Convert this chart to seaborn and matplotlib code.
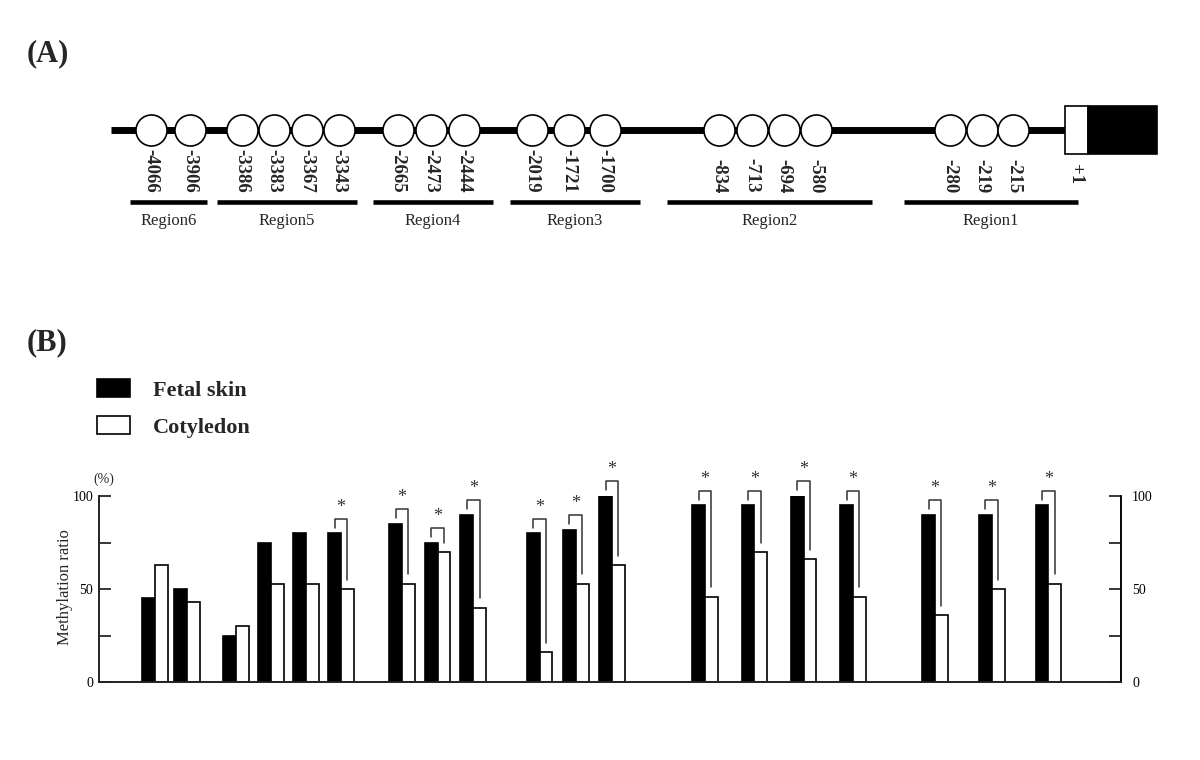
import numpy as np
import pandas as pd
import matplotlib
matplotlib.use('Agg')
import matplotlib.pyplot as plt
from matplotlib.patches import Rectangle
import seaborn as sns

sites = ['-4066', '-3906', '-3386', '-3383', '-3367', '-3343', '-2665', '-2473', '-2444',
         '-2019', '-1721', '-1700', '-834', '-713', '-694', '-580', '-280', '-219', '-215']
site_region = ['Region6', 'Region6', 'Region5', 'Region5', 'Region5', 'Region5',
               'Region4', 'Region4', 'Region4', 'Region3', 'Region3', 'Region3',
               'Region2', 'Region2', 'Region2', 'Region2', 'Region1', 'Region1', 'Region1']
fetal_skin = [45, 50, 25, 75, 80, 80, 85, 75, 90, 80, 82, 100, 95, 95, 100, 95, 90, 90, 95]
cotyledon = [63, 43, 30, 53, 53, 50, 53, 70, 40, 16, 53, 63, 46, 70, 66, 46, 36, 50, 53]
significant = [False, False, False, False, False, True, True, True, True, True,
               True, True, True, True, True, True, True, True, True]
regions = ['Region6', 'Region5', 'Region4', 'Region3', 'Region2', 'Region1']
tissues = ['Fetal skin', 'Cotyledon']
y_ticks = [0, 25, 50, 75, 100]
y_tick_labels = ['0', '', '50', '', '100']

# layout in figure pixels (1200 x 760)
circle_start = {'Region6': 150.7, 'Region5': 241.7, 'Region4': 398.3,
                'Region3': 532.3, 'Region2': 719.3, 'Region1': 950.2}
circle_pitch = {'Region6': 39.3, 'Region5': 32.4, 'Region4': 32.8,
                'Region3': 36.3, 'Region2': 32.2, 'Region1': 31.6}
bar_start = {'Region6': 155, 'Region5': 236, 'Region4': 402,
             'Region3': 539.5, 'Region2': 705, 'Region1': 935}
bar_pitch = {'Region6': 31.7, 'Region5': 35, 'Region4': 35.6,
             'Region3': 36.2, 'Region2': 49.3, 'Region1': 56.7}
region_span = {'Region6': (130, 207), 'Region5': (216.7, 356.7), 'Region4': (373, 493),
               'Region3': (510, 640), 'Region2': (666.6, 872), 'Region1': (904, 1078)}
pair_w = 25.6

circle_x, bar_x = [], []
count = {}
for r in site_region:
    k = count.get(r, 0)
    count[r] = k + 1
    circle_x.append(circle_start[r] + k * circle_pitch[r])
    bar_x.append(bar_start[r] + k * bar_pitch[r])

sns.set_theme(style='white')
plt.rcParams['font.family'] = ['Liberation Serif', 'DejaVu Serif']

fig = plt.figure(figsize=(12, 7.6), dpi=100)

# (A) promoter schematic
ax_top = fig.add_axes([0, 0, 1, 1])
ax_top.plot([110.7, 1065.4], [130.3, 130.3], color='black', lw=5, solid_capstyle='butt', zorder=1)
sns.scatterplot(x=circle_x, y=[130.3] * len(circle_x), ax=ax_top, s=500, color='white',
                edgecolor='black', linewidth=1.2, zorder=3, legend=False)
ax_top.add_patch(Rectangle((1065.4, 106), 22.9, 48, facecolor='white', edgecolor='black', lw=1.2, zorder=3))
ax_top.add_patch(Rectangle((1088.3, 106), 68.5, 48, facecolor='black', edgecolor='black', lw=1.2, zorder=3))
for x, s in zip(circle_x, sites):
    ax_top.text(x, 193, s, rotation=270, ha='center', va='bottom', fontsize=13.5, fontweight='bold')
ax_top.text(1076, 184, '+1', rotation=270, ha='center', va='bottom', fontsize=13.5, fontweight='bold')
for r in regions:
    x0, x1 = region_span[r]
    ax_top.plot([x0, x1], [202, 202], color='black', lw=3.3, solid_capstyle='butt')
    ax_top.text((x0 + x1) / 2, 221, r, ha='center', va='center', fontsize=12)
ax_top.text(27, 54, '(A)', ha='left', va='center', fontsize=22, fontweight='bold')
ax_top.text(27, 343, '(B)', ha='left', va='center', fontsize=22, fontweight='bold')
ax_top.set_xlim(0, 1200)
ax_top.set_ylim(760, 0)
ax_top.axis('off')

# (B) methylation bars
ax = fig.add_axes([98.7 / 1200, 1 - 682.3 / 760, (1121 - 98.7) / 1200, (682.3 - 496) / 760])
df = pd.DataFrame({
    'site': sites * 2,
    'x': bar_x * 2,
    'tissue': [t for t in tissues for _ in sites],
    'ratio': fetal_skin + cotyledon,
})
min_gap = np.diff(sorted(bar_x)).min()
sns.barplot(data=df, x='x', y='ratio', hue='tissue', hue_order=tissues,
            palette={'Fetal skin': 'black', 'Cotyledon': 'white'}, native_scale=True,
            width=pair_w / min_gap, edgecolor='black', linewidth=1.2, errorbar=None, ax=ax)

old = ax.get_legend()
handles = old.legend_handles
labels = [t.get_text() for t in old.get_texts()]
leg = ax.legend(handles, labels, loc='upper left', bbox_to_anchor=(97.3 / 1200, 1 - 379 / 760),
                bbox_transform=fig.transFigure, frameon=False, prop={'size': 16, 'weight': 'bold'},
                handlelength=1.49, handleheight=0.86, handletextpad=1.0, labelspacing=0.7,
                borderpad=0, borderaxespad=0)
for h in leg.legend_handles:
    h.set_facecolor('black' if h.get_label() == 'Fetal skin' else 'white')
    h.set_edgecolor('black')
    h.set_linewidth(1.2)

quarter = pair_w / 4
for x, f, c, sig in zip(bar_x, fetal_skin, cotyledon, significant):
    if not sig:
        continue
    top = f + 7.8
    ax.plot([x - quarter, x - quarter, x + quarter, x + quarter], [f + 3, top, top, c + 5],
            color='#333333', lw=1.1, clip_on=False)
    ax.text(x, top + 3.8, '*', ha='center', va='baseline', fontsize=13, color='#333333', clip_on=False)

ax.set_xlim(98.7, 1121)
ax.set_ylim(0, 100)
ax.set_xticks([])
ax.set_yticks(y_ticks)
ax.set_yticklabels(y_tick_labels)
ax.set_xlabel('')
ax.set_ylabel('')
ax.tick_params(axis='y', direction='in', length=8.6, width=1.1, pad=4, labelsize=10, colors='black')
ax.spines['top'].set_visible(False)
for s in ['left', 'bottom', 'right']:
    ax.spines[s].set_linewidth(1.1)
    ax.spines[s].set_color('black')

ax2 = ax.twinx()
ax2.set_ylim(0, 100)
ax2.set_yticks(y_ticks)
ax2.set_yticklabels(y_tick_labels)
ax2.tick_params(axis='y', direction='in', length=8.6, width=1.1, pad=8, labelsize=10, colors='black')
ax2.spines['top'].set_visible(False)
ax2.spines['right'].set_linewidth(1.1)
ax2.spines['right'].set_color('black')
ax2.grid(False)

fig.text(65 / 1200, 1 - 587 / 760, 'Methylation ratio', rotation=90, ha='center', va='center', fontsize=12)
fig.text(103.5 / 1200, 1 - 479 / 760, '(%)', ha='center', va='center', fontsize=10)

fig.savefig('out.png', dpi=100)
